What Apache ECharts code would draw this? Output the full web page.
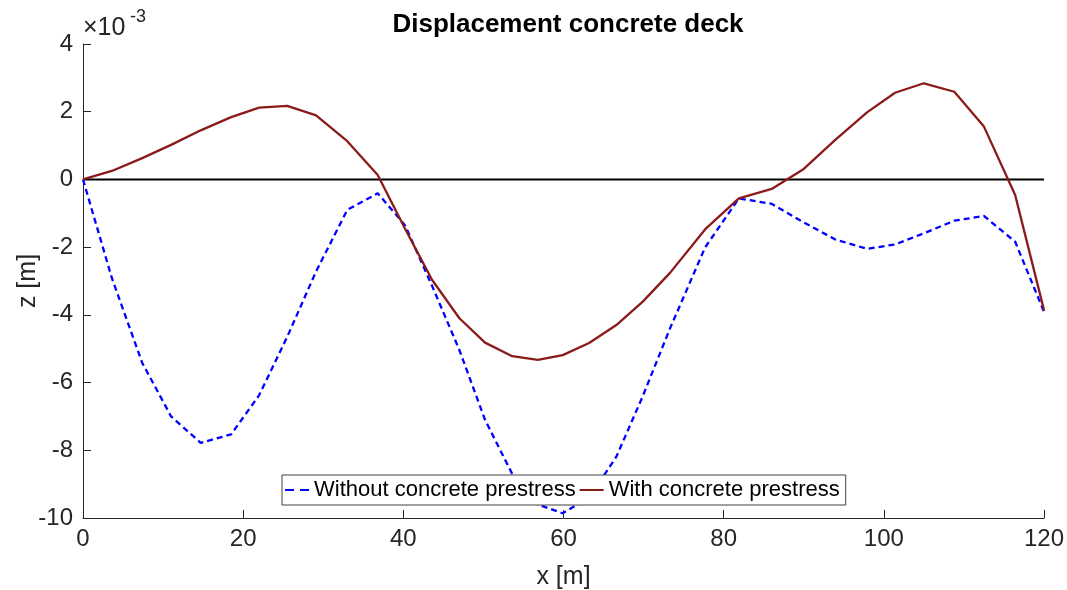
<!DOCTYPE html>
<html>
<head>
<meta charset="utf-8">
<script src="https://cdn.jsdelivr.net/npm/echarts@6/dist/echarts.min.js"></script>
<style>
html,body{margin:0;padding:0;background:#fff;}
#chart{width:1067px;height:590px;}
</style>
</head>
<body>
<div id="chart"></div>
<script>
// x positions along the deck [m]
var xNodes = [0, 3.6, 7.4, 11.0, 14.7, 18.5, 22.0, 25.5, 29.1, 33.0, 36.8,
  40.2, 43.6, 47.0, 50.2, 53.6, 56.8, 59.9, 63.2, 66.6, 69.9, 73.3,
  77.7, 81.9, 86.0, 90.0, 93.9, 97.9, 101.4, 105.0, 108.8, 112.5, 116.4, 120];
// vertical displacement z, in units of 1e-3 m
var withoutPrestress = [0, -2.91, -5.42, -7.0, -7.78, -7.53, -6.37, -4.65, -2.72, -0.9, -0.41,
  -1.35, -3.15, -5.04, -7.1, -8.7, -9.6, -9.86, -9.4, -8.19, -6.4, -4.4,
  -2.0, -0.56, -0.72, -1.27, -1.77, -2.05, -1.92, -1.59, -1.22, -1.08, -1.84, -3.91];
var withPrestress = [0, 0.25, 0.63, 1.02, 1.45, 1.84, 2.12, 2.17, 1.89, 1.13, 0.13,
  -1.45, -2.97, -4.10, -4.82, -5.22, -5.33, -5.19, -4.83, -4.30, -3.61, -2.76,
  -1.47, -0.56, -0.28, 0.31, 1.16, 1.98, 2.56, 2.84, 2.59, 1.56, -0.46, -3.86];
var zeroLineX = [0, 120];
var zeroLineY = [0, 0];
var seriesNames = ['Without concrete prestress', 'With concrete prestress'];
var xTicks = [0, 20, 40, 60, 80, 100, 120];
var yTicks = [-10, -8, -6, -4, -2, 0, 2, 4];

function pairs(xs, ys) { return xs.map(function (x, i) { return [x, ys[i]]; }); }

var FONT = 'Liberation Sans, Arial, Helvetica, sans-serif';
var TXT = '#262626';
var BLUE = '#0000ff';
var RED = '#8b1a1a';

var chart = echarts.init(document.getElementById('chart'), null, {renderer: 'canvas'});
chart.setOption({
  animation: false,
  backgroundColor: '#fff',
  title: {
    text: 'Displacement concrete deck',
    left: 563, top: 7, textAlign: 'center',
    textStyle: {fontFamily: FONT, fontSize: 26, fontWeight: 'bold', color: '#000'}
  },
  graphic: [
    {type: 'text', left: 83, top: 16, style: {text: '×10', font: '25px ' + FONT, fill: TXT}},
    {type: 'text', left: 130, top: 8, style: {text: '-3', font: '18px ' + FONT, fill: TXT}}
  ],
  grid: {left: 83, right: 23, top: 44, bottom: 72, containLabel: false, outerBoundsMode: 'none'},
  legend: {
    data: [
      {name: seriesNames[0], icon: 'path://M0,0h9v2h-9z M15,0h9v2h-9z'},
      {name: seriesNames[1], icon: 'path://M0,0h24v2h-24z'}
    ],
    left: 282, top: 475,
    orient: 'horizontal',
    padding: [4, 6, 4, 3],
    itemGap: 4,
    itemWidth: 24, itemHeight: 14,
    backgroundColor: '#fff',
    borderColor: '#404040', borderWidth: 1, borderRadius: 0,
    textStyle: {fontFamily: FONT, fontSize: 22, color: '#000'}
  },
  xAxis: {
    type: 'value', min: 0, max: 120, interval: 20,
    name: 'x [m]', nameLocation: 'middle', nameGap: 47, nameMoveOverlap: false,
    nameTextStyle: {fontFamily: FONT, fontSize: 25, color: TXT},
    axisLine: {show: true, onZero: false, lineStyle: {color: TXT, width: 1}},
    axisTick: {show: true, inside: true, length: 8, lineStyle: {color: TXT}},
    axisLabel: {fontFamily: FONT, fontSize: 24, color: TXT, margin: 9,
      formatter: function (v) { return xTicks.indexOf(v) >= 0 ? String(v) : ''; }},
    splitLine: {show: false}
  },
  yAxis: {
    type: 'value', min: -10, max: 4, interval: 2,
    name: 'z [m]', nameLocation: 'middle', nameGap: 42, nameRotate: 90, nameMoveOverlap: false,
    nameTextStyle: {fontFamily: FONT, fontSize: 25, color: TXT},
    axisLine: {show: true, onZero: false, lineStyle: {color: TXT, width: 1}},
    axisTick: {show: true, inside: true, length: 8, lineStyle: {color: TXT}},
    axisLabel: {fontFamily: FONT, fontSize: 24, color: TXT, margin: 10,
      formatter: function (v) { return yTicks.indexOf(v) >= 0 ? String(v) : ''; }},
    splitLine: {show: false}
  },
  series: [
    {
      name: 'zero', type: 'line', data: pairs(zeroLineX, zeroLineY),
      symbol: 'none', silent: true, z: 1,
      lineStyle: {color: '#000', width: 2}
    },
    {
      name: seriesNames[0], type: 'line', data: pairs(xNodes, withoutPrestress),
      symbol: 'none', z: 2, color: BLUE,
      lineStyle: {color: BLUE, width: 2.3, type: [6, 4]}
    },
    {
      name: seriesNames[1], type: 'line', data: pairs(xNodes, withPrestress),
      symbol: 'none', z: 3, color: RED,
      lineStyle: {color: RED, width: 2.3}
    }
  ]
});
</script>
</body>
</html>
